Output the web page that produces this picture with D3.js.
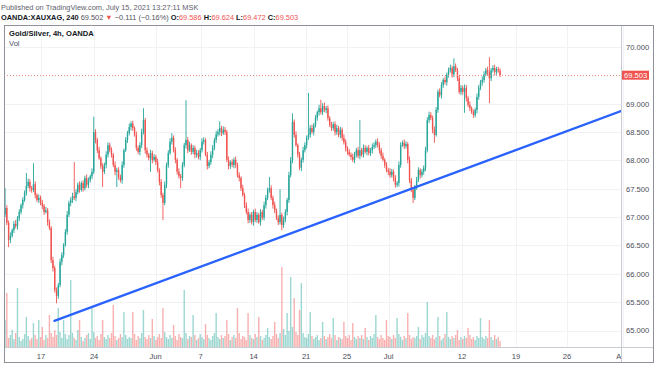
<!DOCTYPE html>
<html><head><meta charset="utf-8">
<script src="https://cdn.jsdelivr.net/npm/d3@7"></script>
<style>
body{margin:0;background:#fff;}
svg{display:block;font-family:"Liberation Sans",Arial,sans-serif;}
</style>
</head><body><svg id="c" width="654" height="366"></svg>
<script>
// ---- data (4h bars, OANDA:XAUXAG) ----
const firstOpen = 67.05;
const closes = [
67.16,66.90,66.60,66.67,66.77,66.88,66.84,66.98,67.09,67.21,
67.30,67.43,67.55,67.62,67.51,67.48,67.58,67.39,67.30,67.34,
67.25,67.20,67.09,67.12,66.91,66.81,66.24,66.10,65.71,65.61,
65.80,66.21,66.33,66.51,66.74,67.04,67.25,67.30,67.37,67.34,
67.44,67.57,67.48,67.60,67.51,67.69,67.57,67.65,67.72,67.80,
68.50,68.36,68.18,68.04,67.90,67.80,67.92,68.10,68.27,68.18,
68.10,67.92,67.80,67.83,67.71,67.65,67.92,68.18,68.36,68.48,
68.59,68.65,68.57,68.45,68.22,68.15,68.27,68.50,68.71,68.18,
68.10,68.04,68.13,68.01,68.06,67.97,67.83,67.62,67.39,67.25,
67.57,67.92,68.13,68.33,68.40,68.18,68.01,67.80,67.72,67.69,
67.92,68.27,68.36,68.18,68.27,68.15,68.22,68.10,68.13,68.06,
68.18,68.33,68.36,68.10,67.90,67.97,68.10,68.22,68.36,68.46,
68.50,68.57,68.48,68.54,68.50,68.01,67.90,67.97,67.92,68.01,
67.92,67.74,67.69,67.51,67.39,67.21,67.09,66.95,67.04,66.91,
67.09,66.95,67.04,66.91,67.09,66.99,67.21,67.34,67.48,67.51,
67.34,67.21,67.12,66.98,66.91,67.04,66.86,66.95,67.09,67.30,
67.74,68.01,68.68,68.45,68.27,68.10,67.87,68.01,68.18,68.27,
68.40,68.45,68.57,68.50,68.62,68.75,68.85,68.92,68.85,68.96,
68.89,68.92,68.75,68.62,68.57,68.64,68.50,68.57,68.45,68.54,
68.40,68.32,68.22,68.15,68.10,68.06,68.01,68.10,68.18,68.08,
68.18,68.10,68.22,68.15,68.22,68.13,68.18,68.24,68.27,68.33,
68.27,68.18,68.08,68.01,67.92,67.83,67.80,67.74,67.80,67.69,
67.57,67.60,67.92,68.27,68.31,68.25,68.29,68.01,67.65,67.48,
67.34,67.53,67.65,67.83,67.74,67.80,67.87,68.18,68.71,68.80,
68.75,68.54,68.45,68.89,69.21,69.15,69.33,69.42,69.38,69.51,
69.59,69.63,69.52,69.66,69.59,69.45,69.21,69.28,69.21,69.28,
69.10,68.98,68.92,68.85,68.80,68.89,69.12,69.28,69.38,69.42,
69.52,69.59,69.56,69.45,69.59,69.63,69.56,69.61,69.586,69.503
];
const upperWicks = [
0.35,0.05,0.04,0.06,0.03,0.05,0.07,0.04,0.05,0.03,
0.05,0.04,0.23,0.06,0.05,0.04,0.37,0.05,0.03,0.06,
0.04,0.05,0.03,0.06,0.04,0.05,0.03,0.06,0.04,0.05,
0.04,0.06,0.05,0.03,0.05,0.07,0.04,0.05,0.06,0.60,
0.05,0.04,0.06,0.03,0.05,0.04,0.06,0.05,0.03,0.06,
0.27,0.05,0.04,0.06,0.03,0.05,0.04,0.06,0.05,0.04,
0.05,0.03,0.06,0.04,0.05,0.04,0.06,0.03,0.05,0.04,
0.06,0.04,0.05,0.03,0.06,0.04,0.05,0.06,0.21,0.04,
0.05,0.03,0.06,0.04,0.05,0.04,0.06,0.03,0.05,0.04,
0.06,0.04,0.05,0.06,0.08,0.04,0.05,0.03,0.06,0.04,
0.05,0.04,0.70,0.05,0.06,0.03,0.05,0.04,0.06,0.05,
0.04,0.06,0.05,0.03,0.05,0.04,0.06,0.05,0.04,0.06,
0.05,0.12,0.04,0.06,0.05,0.04,0.06,0.03,0.05,0.04,
0.06,0.04,0.05,0.03,0.06,0.04,0.05,0.06,0.04,0.05,
0.04,0.06,0.05,0.03,0.05,0.04,0.06,0.05,0.04,0.20,
0.05,0.04,0.06,0.03,0.05,0.45,0.04,0.06,0.05,0.04,
0.06,0.05,0.15,0.04,0.06,0.03,0.05,0.04,0.06,0.05,
0.04,0.74,0.05,0.06,0.04,0.05,0.03,0.06,0.15,0.05,
0.06,0.04,0.05,0.03,0.06,0.04,0.05,0.06,0.04,0.05,
0.04,0.06,0.05,0.03,0.05,0.04,0.06,0.05,0.04,0.06,
0.53,0.04,0.06,0.05,0.03,0.05,0.04,0.06,0.05,0.04,
0.06,0.05,0.04,0.06,0.03,0.05,0.04,0.06,0.05,0.04,
0.05,0.04,0.06,0.05,0.04,0.06,0.05,0.03,0.06,0.04,
0.05,0.04,0.06,0.05,0.03,0.05,0.04,0.06,0.05,0.06,
0.05,0.04,0.06,0.05,0.04,0.06,0.05,0.03,0.06,0.04,
0.05,0.06,0.04,0.14,0.05,0.04,0.06,0.05,0.04,0.06,
0.05,0.04,0.06,0.03,0.05,0.04,0.06,0.05,0.04,0.06,
0.05,0.04,0.06,0.26,0.04,0.05,0.06,0.04,0.04,0.038
];
const lowerWicks = [
0.05,0.04,0.13,0.06,0.03,0.05,0.04,0.06,0.05,0.04,
0.06,0.03,0.05,0.04,0.06,0.05,0.04,0.06,0.03,0.05,
0.04,0.06,0.05,0.03,0.06,0.04,0.05,0.06,0.04,0.13,
0.05,0.04,0.06,0.05,0.03,0.05,0.04,0.06,0.05,0.04,
0.06,0.04,0.05,0.03,0.06,0.04,0.05,0.06,0.04,0.05,
0.04,0.06,0.05,0.03,0.05,0.27,0.04,0.06,0.05,0.04,
0.05,0.04,0.06,0.27,0.05,0.04,0.06,0.05,0.03,0.05,
0.04,0.06,0.05,0.03,0.05,0.04,0.06,0.05,0.04,0.06,
0.05,0.04,0.24,0.06,0.03,0.05,0.04,0.06,0.05,0.30,
0.04,0.06,0.05,0.03,0.05,0.04,0.06,0.05,0.04,0.18,
0.05,0.04,0.06,0.05,0.03,0.05,0.04,0.06,0.05,0.04,
0.06,0.04,0.05,0.03,0.06,0.04,0.05,0.06,0.04,0.05,
0.04,0.06,0.05,0.03,0.05,0.04,0.06,0.05,0.04,0.06,
0.05,0.04,0.06,0.05,0.03,0.05,0.04,0.06,0.05,0.04,
0.06,0.04,0.05,0.03,0.06,0.04,0.05,0.06,0.04,0.05,
0.04,0.06,0.05,0.03,0.05,0.04,0.09,0.05,0.04,0.06,
0.05,0.04,0.06,0.05,0.03,0.05,0.04,0.06,0.05,0.04,
0.06,0.04,0.05,0.03,0.06,0.04,0.05,0.06,0.04,0.05,
0.04,0.06,0.05,0.03,0.05,0.04,0.06,0.05,0.04,0.06,
0.05,0.04,0.06,0.05,0.03,0.05,0.04,0.06,0.05,0.04,
0.06,0.04,0.05,0.03,0.06,0.04,0.05,0.06,0.04,0.05,
0.04,0.06,0.05,0.03,0.05,0.04,0.06,0.05,0.04,0.06,
0.05,0.04,0.06,0.05,0.03,0.05,0.04,0.06,0.05,0.04,
0.09,0.04,0.05,0.03,0.06,0.04,0.05,0.06,0.04,0.05,
0.04,0.06,0.14,0.03,0.05,0.04,0.06,0.05,0.04,0.06,
0.05,0.04,0.06,0.05,0.03,0.05,0.04,0.06,0.05,0.37,
0.06,0.04,0.05,0.03,0.05,0.04,0.06,0.05,0.04,0.06,
0.05,0.04,0.06,0.44,0.05,0.04,0.06,0.05,0.04,0.031
];
const volumes = [
27,54,9,12,17,8,14,59,10,6,
8,13,30,11,7,9,24,12,8,27,
10,20,7,12,9,32,14,10,17,12,
39,15,9,27,13,8,12,67,14,9,
7,17,27,10,6,9,12,14,8,39,
15,9,11,7,13,27,10,8,12,9,
14,42,11,7,9,13,10,35,12,8,
10,9,35,13,7,11,9,14,37,10,
8,12,9,28,11,7,10,13,9,39,
15,10,8,12,9,22,11,7,13,10,
9,57,14,8,11,10,32,12,7,9,
13,10,8,23,12,9,7,11,14,34,
10,8,12,9,11,27,13,7,10,12,
9,39,14,8,11,10,7,34,12,9,
8,13,10,30,11,7,9,12,19,10,
8,11,25,13,9,14,80,18,12,34,
16,70,20,49,15,12,37,64,14,10,
9,13,35,11,8,10,12,7,9,25,
11,8,10,13,9,29,12,7,10,9,
8,25,11,9,12,7,24,10,8,11,
9,12,8,19,10,7,11,9,13,32,
10,8,12,9,7,27,11,10,8,12,
9,29,13,10,7,11,9,34,12,8,
10,9,11,20,8,12,10,14,45,11,
9,12,8,10,30,11,7,9,13,35,
10,8,11,9,12,17,7,10,8,11,
9,19,12,8,10,7,11,9,29,10,
8,11,9,27,10,7,12,8,10,6
];
const xTickLabels = ["17","24","Jun","7","14","21","25","Jul","12","19","26","Aug"];
const xTickBars   = [20.3, 50.2, 84.8, 110.2, 140.1, 169.7, 192.8, 216.2, 257.6, 288.0, 316.8, 348.4];
const yTickValues = [65, 65.5, 66, 66.5, 67, 67.5, 68, 68.5, 69, 70];
const lastPrice = 69.503;
const trendBars = [27.8, 347.2];
const trendPrices = [65.17, 68.87];
const headerLine1 = "Published on TradingView.com, July 15, 2021 13:27:11 MSK";
const headerSymbol = "OANDA:XAUXAG, 240";
const headerLast = "69.502";
const headerChange = "\u22120.111 (\u22120.16%)";
const ohlcKeys = ["O:", "H:", "L:", "C:"];
const ohlcVals = ["69.586", "69.624", "69.472", "69.503"];
const paneTitle = "Gold/Silver, 4h, OANDA";
const volTitle = "Vol";

// ---- build ----
const UP = "#26a69a", DOWN = "#ef5350";
const bars = closes.map((c, i) => {
  const o = i === 0 ? firstOpen : closes[i - 1];
  return {i, o, c, h: Math.max(o, c) + upperWicks[i], l: Math.min(o, c) - lowerWicks[i], v: volumes[i]};
});

const L = 4, R = 621, T = 25, B = 347;
const svg = d3.select("#c");
const x = d3.scaleLinear().domain([-0.6, 347.2]).range([L, R]);
const y = d3.scaleLinear().domain([65, 70]).range([330.5, 47]);
const yv = d3.scaleLinear().domain([0, 100]).range([B, B - 100]);

svg.append("rect").attr("width", 654).attr("height", 366).attr("fill", "#fff");

const defs = svg.append("defs");
defs.append("clipPath").attr("id", "plotclip").append("rect")
  .attr("x", L).attr("y", T).attr("width", R - L).attr("height", B - T);
defs.append("clipPath").attr("id", "xclip").append("rect")
  .attr("x", L).attr("y", B).attr("width", R - L).attr("height", 16);

// grid
const grid = svg.append("g").attr("stroke", "#f0f2f6").attr("stroke-width", 1);
grid.selectAll("line.v").data(xTickBars).join("line")
  .attr("x1", d => Math.round(x(d)) + 0.5).attr("x2", d => Math.round(x(d)) + 0.5)
  .attr("y1", T).attr("y2", B);
grid.selectAll("line.h").data(yTickValues).join("line")
  .attr("x1", L).attr("x2", R)
  .attr("y1", d => Math.round(y(d)) + 0.5).attr("y2", d => Math.round(y(d)) + 0.5);

const plot = svg.append("g").attr("clip-path", "url(#plotclip)");

// volume
plot.append("g").selectAll("rect").data(bars).join("rect")
  .attr("x", d => x(d.i) - 0.7).attr("width", 1.4)
  .attr("y", d => yv(d.v)).attr("height", d => B - yv(d.v))
  .attr("fill", d => d.c >= d.o ? "rgba(38,166,154,0.45)" : "rgba(239,83,80,0.45)");

// candles
const cg = plot.append("g");
cg.selectAll("rect.w").data(bars).join("rect")
  .attr("x", d => x(d.i) - 0.45).attr("width", 0.9)
  .attr("y", d => y(d.h)).attr("height", d => Math.max(0.8, y(d.l) - y(d.h)))
  .attr("fill", d => d.c >= d.o ? UP : DOWN);
cg.selectAll("rect.b").data(bars).join("rect")
  .attr("x", d => x(d.i) - 0.7).attr("width", 1.4)
  .attr("y", d => y(Math.max(d.o, d.c))).attr("height", d => Math.max(0.8, Math.abs(y(d.o) - y(d.c))))
  .attr("fill", d => d.c >= d.o ? UP : DOWN);

// last price line
plot.append("line").attr("x1", L).attr("x2", R)
  .attr("y1", Math.round(y(lastPrice)) + 0.5).attr("y2", Math.round(y(lastPrice)) + 0.5)
  .attr("stroke", "#f08a87").attr("stroke-width", 1).attr("stroke-dasharray", "1,2");

// trend line
plot.append("line")
  .attr("x1", x(trendBars[0])).attr("y1", y(trendPrices[0]))
  .attr("x2", x(trendBars[1])).attr("y2", y(trendPrices[1]))
  .attr("stroke", "#2962ff").attr("stroke-width", 2.3).attr("stroke-linecap", "round");

// frame / separators
svg.append("line").attr("x1", L).attr("x2", 654).attr("y1", B + 0.5).attr("y2", B + 0.5).attr("stroke", "#c8cbd2");
svg.append("line").attr("x1", R + 0.5).attr("x2", R + 0.5).attr("y1", T).attr("y2", 363).attr("stroke", "#c8cbd2");
svg.append("rect").attr("x", L + 0.5).attr("y", T + 0.5).attr("width", 653 - L).attr("height", 362 - T)
  .attr("fill", "none").attr("stroke", "#8e9199");

// y axis labels
svg.append("g").selectAll("text").data(yTickValues).join("text")
  .attr("x", 626).attr("y", d => y(d) + 2.8)
  .attr("font-size", 7.6).attr("fill", "#4a4d57")
  .text(d => d.toFixed(3));

// last price label
svg.append("rect").attr("x", 622).attr("y", y(lastPrice) - 4.5).attr("width", 27).attr("height", 9)
  .attr("fill", DOWN);
svg.append("text").attr("x", 624).attr("y", y(lastPrice) + 2.8).attr("font-size", 7.6).attr("fill", "#fff")
  .text(lastPrice.toFixed(3));

// x axis labels
svg.append("g").attr("clip-path", "url(#xclip)").selectAll("text").data(xTickLabels).join("text")
  .attr("x", (d, k) => x(xTickBars[k])).attr("y", 358.5)
  .attr("text-anchor", "middle").attr("font-size", 7.6).attr("fill", "#4a4d57")
  .text(d => d);

// header
svg.append("text").attr("x", 1).attr("y", 9.5).attr("font-size", 7.4).attr("fill", "#5d606b").text(headerLine1);
const h2 = svg.append("text").attr("x", 1).attr("y", 19.5).attr("font-size", 7.4).attr("fill", "#131722");
h2.append("tspan").attr("font-weight", "bold").text(headerSymbol + " ");
h2.append("tspan").attr("fill", "#50535e").text(headerLast + " ");
h2.append("tspan").attr("fill", DOWN).text("\u25BC ");
h2.append("tspan").attr("fill", "#50535e").text(headerChange + " ");
ohlcKeys.forEach((k, j) => {
  h2.append("tspan").attr("font-weight", "bold").text(k);
  h2.append("tspan").attr("fill", DOWN).text(ohlcVals[j] + " ");
});
svg.append("text").attr("x", 9).attr("y", 36).attr("font-size", 7.6).attr("font-weight", "bold").attr("fill", "#131722").text(paneTitle);
svg.append("text").attr("x", 9).attr("y", 46).attr("font-size", 7.6).attr("fill", "#50535e").text(volTitle);
</script>
</body></html>
